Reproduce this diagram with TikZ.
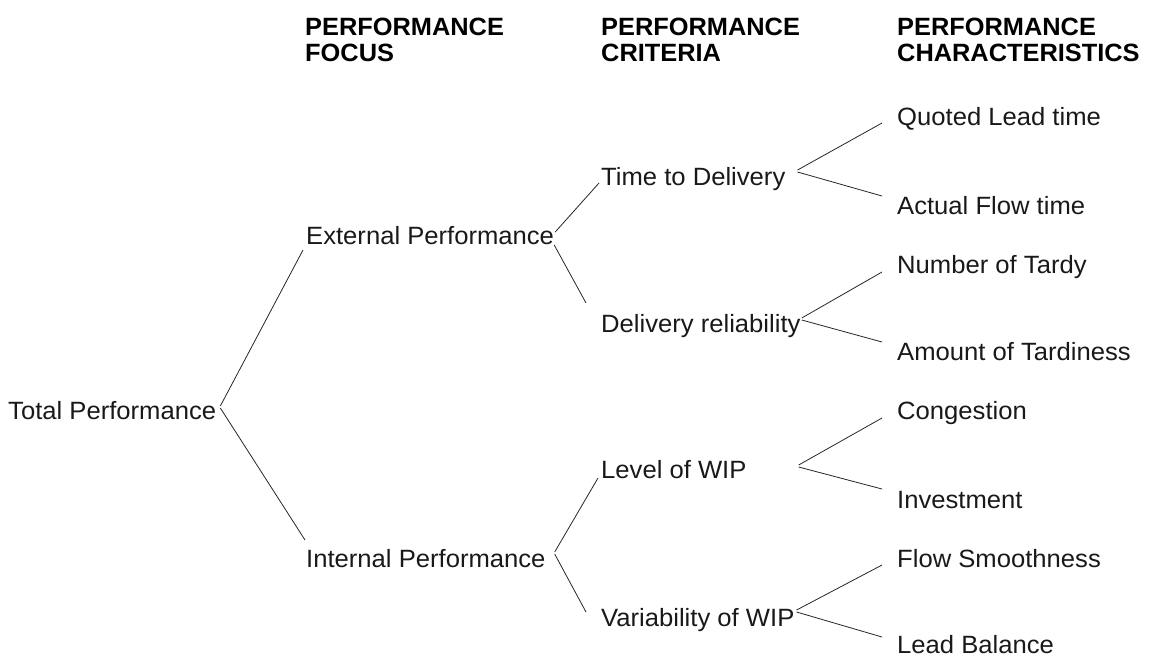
\documentclass[tikz,border=0pt]{standalone}
\usepackage{fontspec}
\setmainfont[FakeStretch=1.025,BoldFeatures={FakeStretch=1.015}]{Liberation Sans}
\begin{document}
\begin{tikzpicture}[x=1pt,y=-1pt,
  lbl/.style={inner sep=0pt,anchor=base west,font=\fontsize{25}{26}\selectfont,text=black!90},
  head/.style={inner sep=0pt,anchor=north west,align=left,font=\fontsize{25}{26}\selectfont\bfseries},
  link/.style={draw=black!85,line width=0.8pt}]
\useasboundingbox (0,0) rectangle (1150,657);

% column headings
\node[head] (hfocus) at (305,18) {PERFORMANCE\\FOCUS};
\node[head] (hcrit)  at (601,18) {PERFORMANCE\\CRITERIA};
\node[head] (hchar)  at (897,18) {PERFORMANCE\\CHARACTERISTICS};

% root
\node[lbl] (tp) at (8,419) {Total Performance};

% performance focus
\node[lbl] (ext) at (306,244) {External Performance};
\node[lbl] (int) at (306,567) {Internal Performance};

% performance criteria
\node[lbl] (time) at (601,185) {Time to Delivery};
\node[lbl] (del)  at (601,332) {Delivery reliability};
\node[lbl] (lev)  at (601,478) {Level of WIP};
\node[lbl] (var)  at (601,626) {Variability of WIP};

% performance characteristics
\node[lbl] (quo)  at (897,125) {Quoted Lead time};
\node[lbl] (act)  at (897,214) {Actual Flow time};
\node[lbl] (num)  at (897,273) {Number of Tardy};
\node[lbl] (amt)  at (897,360) {Amount of Tardiness};
\node[lbl] (cong) at (897,419) {Congestion};
\node[lbl] (inv)  at (897,508) {Investment};
\node[lbl] (flow) at (897,567) {Flow Smoothness};
\node[lbl] (lead) at (897,653) {Lead Balance};

% root to focus
\draw[link] ([shift={(4,-13)}]tp.base east) -- ([shift={(-3,6)}]ext.base west);
\draw[link] ([shift={(4,-11)}]tp.base east) -- ([shift={(-1,-27)}]int.base west);

% focus to criteria
\draw[link] ([shift={(1,-12)}]ext.base east) -- ([shift={(-2,-2)}]time.base west);
\draw[link] ([shift={(0,1)}]ext.base east) -- ([shift={(-15,-29)}]del.base west);
\draw[link] ([shift={(9,-15)}]int.base east) -- ([shift={(-3,0)}]lev.base west);
\draw[link] ([shift={(9,-13)}]int.base east) -- ([shift={(-15,-14)}]var.base west);

% criteria to characteristics
\draw[link] ([shift={(12,-15)}]time.base east) -- ([shift={(-15,-2)}]quo.base west);
\draw[link] ([shift={(12,-13)}]time.base east) -- ([shift={(-15,-18)}]act.base west);
\draw[link] ([shift={(1,-14)}]del.base east) -- ([shift={(-15,-1)}]num.base west);
\draw[link] ([shift={(1,-12)}]del.base east) -- ([shift={(-15,-18)}]amt.base west);
\draw[link] ([shift={(52,-13)}]lev.base east) -- ([shift={(-15,-1)}]cong.base west);
\draw[link] ([shift={(52,-11)}]lev.base east) -- ([shift={(-15,-19)}]inv.base west);
\draw[link] ([shift={(2,-16)}]var.base east) -- ([shift={(-15,-2)}]flow.base west);
\draw[link] ([shift={(2,-14)}]var.base east) -- ([shift={(-15,-16)}]lead.base west);
\end{tikzpicture}
\end{document}
